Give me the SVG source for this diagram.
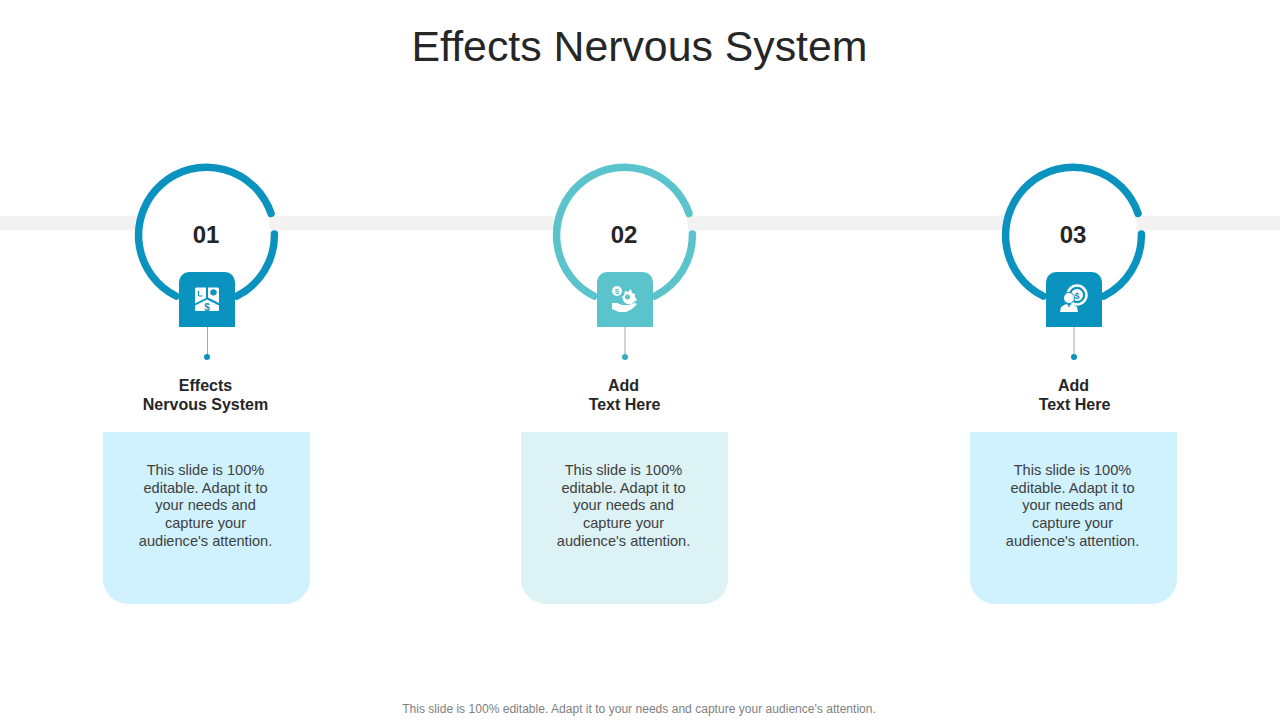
<svg xmlns="http://www.w3.org/2000/svg" width="1280" height="720" viewBox="0 0 1280 720">
<style>
text{font-family:"Liberation Sans",Arial,sans-serif;text-anchor:middle}
.title{font-size:42.8px;fill:#262626}
.num{font-size:24px;font-weight:700;fill:#262626}
.head{font-size:16px;font-weight:700;fill:#262626}
.body{font-size:14.6px;fill:#404040}
.foot{font-size:12.07px;fill:#7f7f7f}
.ring{fill:none;stroke-width:7.500;stroke-linecap:round}
.stem{stroke:#a6a6a6;stroke-width:1;fill:none}
.ic{fill:#fff}
.a .ring{stroke:#0a93bf}.a .sq,.a .dot{fill:#0a93bf}.a .card{fill:#cff2fe}
.b .ring{stroke:#5ac3cb}.b .sq{fill:#5ac3cb}.b .dot{fill:#38aebb}.b .card{fill:#dcf2f4}
</style>
<rect width="1280" height="720" fill="#fff"/>
<text class="title" x="639.500" y="61">Effects Nervous System</text>
<g id="connectors"><rect x="0" y="216" width="1280" height="14" fill="#f2f2f2"/></g>

<g id="node1" class="a">
<circle cx="206.500" cy="234.500" r="64" fill="#fff"/>
<path class="ring" d="M271 213.500A68 68 0 1 0 176 296M237 296A68 68 0 0 0 274.400 234"/>
<path class="sq" d="M179 327V282a10 10 0 0 1 10-10h36a10 10 0 0 1 10 10v45z"/>
<path class="stem" d="M207.500 327V357"/><circle class="dot" cx="207" cy="357" r="3"/>
<text class="num" x="206" y="243">01</text>
<g class="ic"><path d="M195 289a1.500 1.500 0 0 1 1.500-1.500h9.500v10.500l-11 5.500z"/><path d="M208 287.500h9.500a1.500 1.500 0 0 1 1.500 1.500v14l-11-5.500z"/><path d="M207 299.500l12 6v4a1.500 1.500 0 0 1-1.500 1.500h-21a1.500 1.500 0 0 1-1.500-1.500v-4z"/></g>
<path d="M198.500 296v-5M199 296h3.500M211 291l2.500-1.300 2.500 1.300v2.800l-2.500 1.300-2.500-1.300z" fill="#0a93bf" stroke="#0a93bf" stroke-width="1.200"/>
<text x="207" y="310.500" style="font-size:10px;font-weight:700;fill:#0a93bf">$</text>
<text class="head" x="205.500" y="391">Effects</text><text class="head" x="205.500" y="410">Nervous System</text>
<path class="card" d="M103 432H310V579a25 25 0 0 1-25 25H128a25 25 0 0 1-25-25z"/>
<text class="body" x="205.500" y="475">This slide is 100%</text><text class="body" x="205.500" y="493">editable. Adapt it to</text><text class="body" x="205.500" y="510">your needs and</text><text class="body" x="205.500" y="528">capture your</text><text class="body" x="205.500" y="546">audience's attention.</text>
</g>

<g id="node2" class="b">
<circle cx="624.500" cy="234.500" r="64" fill="#fff"/>
<path class="ring" d="M689 213.500A68 68 0 1 0 594 296M655 296A68 68 0 0 0 692.400 234"/>
<path class="sq" d="M597 327V282a10 10 0 0 1 10-10h36a10 10 0 0 1 10 10v45z"/>
<path class="stem" d="M625 327V357"/><circle class="dot" cx="625" cy="357" r="3"/>
<text class="num" x="624" y="243">02</text>
<g class="ic"><circle cx="617" cy="291" r="5"/><path d="M622 297l2-2 1-4 3 1 3-3 1 4 3 1v3l2 3-3 2-2 2h-5l-3-2z"/><path d="M612 303h5l5 2h6l7-2 2 1-5 5-6 3h-7l-7-3z"/></g>
<circle cx="627.500" cy="297" r="2.500" fill="#5ac3cb"/>
<text x="617" y="294" style="font-size:8px;font-weight:700;fill:#5ac3cb">$</text>
<text class="head" x="623.500" y="391">Add</text><text class="head" x="624.500" y="410">Text Here</text>
<path class="card" d="M521 432H728V579a25 25 0 0 1-25 25H546a25 25 0 0 1-25-25z"/>
<text class="body" x="623.500" y="475">This slide is 100%</text><text class="body" x="623.500" y="493">editable. Adapt it to</text><text class="body" x="623.500" y="510">your needs and</text><text class="body" x="623.500" y="528">capture your</text><text class="body" x="623.500" y="546">audience's attention.</text>
</g>

<g id="node3" class="a">
<circle cx="1073.500" cy="234.500" r="64" fill="#fff"/>
<path class="ring" d="M1138 213.500A68 68 0 1 0 1043 296M1104 296A68 68 0 0 0 1141.400 234"/>
<path class="sq" d="M1046 327V282a10 10 0 0 1 10-10h36a10 10 0 0 1 10 10v45z"/>
<path class="stem" d="M1074 327V357"/><circle class="dot" cx="1074" cy="357" r="3"/>
<text class="num" x="1073" y="243">03</text>
<circle cx="1077" cy="295" r="9.500" fill="none" stroke="#fff" stroke-width="2.500"/><circle cx="1077" cy="295" r="6" class="ic"/>
<text x="1077" y="298.500" style="font-size:9px;font-weight:700;fill:#0a93bf">$</text>
<circle cx="1069" cy="298" r="5.500" class="ic" stroke="#0a93bf"/>
<path class="ic" d="M1060 312l1-5 5-3 2 1 1 3 1-3 2-1 5 3 1 5z"/>
<text class="head" x="1073.500" y="391">Add</text><text class="head" x="1074.500" y="410">Text Here</text>
<path class="card" d="M970 432H1177V579a25 25 0 0 1-25 25H995a25 25 0 0 1-25-25z"/>
<text class="body" x="1072.500" y="475">This slide is 100%</text><text class="body" x="1072.500" y="493">editable. Adapt it to</text><text class="body" x="1072.500" y="510">your needs and</text><text class="body" x="1072.500" y="528">capture your</text><text class="body" x="1072.500" y="546">audience's attention.</text>
</g>
<text class="foot" x="639" y="713">This slide is 100% editable. Adapt it to your needs and capture your audience's attention.</text>
</svg>
